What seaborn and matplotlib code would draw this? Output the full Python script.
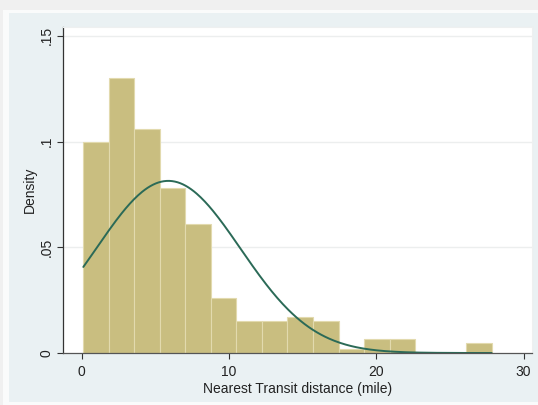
import numpy as np
import pandas as pd
import seaborn as sns
import matplotlib.pyplot as plt
from matplotlib.patches import Rectangle

# histogram (density per bin)
bin_start = 0.11
bin_width = 1.7325
density = [0.100, 0.130, 0.106, 0.078, 0.061, 0.026, 0.015, 0.015,
           0.017, 0.015, 0.002, 0.0066, 0.0066, 0.0, 0.0, 0.0045]
# normal overlay
norm_mean = 5.88
norm_sd = 4.90

edges = bin_start + bin_width * np.arange(len(density) + 1)
centers = (edges[:-1] + edges[1:]) / 2
df = pd.DataFrame({"dist": centers, "dens": density})

sns.set_theme(style="white")
plt.rcParams['font.family'] = ['Liberation Sans', 'DejaVu Sans']

fig = plt.figure(figsize=(5.38, 4.05), dpi=100)
fig.patch.set_facecolor('#F0F0F0')
W, H = 538, 405
fig.patches.append(Rectangle((3 / W, 0), 1, 1 - 7 / H - 3 / H, transform=fig.transFigure,
                             facecolor='#FAFBFB', edgecolor='none', zorder=-2))
fig.patches.append(Rectangle((9 / W, 3 / H), 1, 1 - 13 / H - 3 / H, transform=fig.transFigure,
                             facecolor='#EAF1F3', edgecolor='none', zorder=-1))

ax = fig.add_axes([63 / W, 1 - 353 / H, (532 - 63) / W, (353 - 27) / H])
ax.set_facecolor('white')

sns.histplot(data=df, x="dist", weights="dens", bins=len(density),
             binrange=(float(edges[0]), float(edges[-1])), stat="count",
             color='#C9BE80', alpha=1, edgecolor='#E2DAAE', linewidth=0.8, ax=ax)

xs = np.linspace(edges[0], edges[-1], 300)
ys = np.exp(-0.5 * ((xs - norm_mean) / norm_sd) ** 2) / (norm_sd * np.sqrt(2 * np.pi))
sns.lineplot(x=xs, y=ys, color='#2B6A57', linewidth=1.4, ax=ax)

ax.set_xlim(-1.27, 30.57)
ax.set_ylim(0, 0.1542)
ax.set_xticks([0, 10, 20, 30])
ax.set_xticklabels(['0', '10', '20', '30'])
ax.set_yticks([0, 0.05, 0.1, 0.15])
ax.set_yticklabels(['0', '.05', '.1', '.15'], rotation=90, va='center')
for y in [0.05, 0.1, 0.15]:
    ax.axhline(y, color='#ECEEEE', linewidth=1.0, zorder=0)
ax.set_axisbelow(True)

for s in ['top', 'right']:
    ax.spines[s].set_color('#EEF0F0')
    ax.spines[s].set_linewidth(0.8)
ax.spines['left'].set_color('#333333')
ax.spines['bottom'].set_color('#555555')
ax.spines['left'].set_linewidth(0.9)
ax.spines['bottom'].set_linewidth(0.9)

ax.tick_params(axis='both', which='both', length=4.5, width=0.8, color='#333333',
               labelsize=10, labelcolor='#222222')
ax.tick_params(axis='x', bottom=True, pad=4)
ax.tick_params(axis='y', left=True, pad=2)

ax.set_xlabel('Nearest Transit distance (mile)', fontsize=10, color='#222222', labelpad=2)
ax.set_ylabel('Density', fontsize=10, color='#222222', labelpad=2)

fig.savefig('out.png', dpi=100)
